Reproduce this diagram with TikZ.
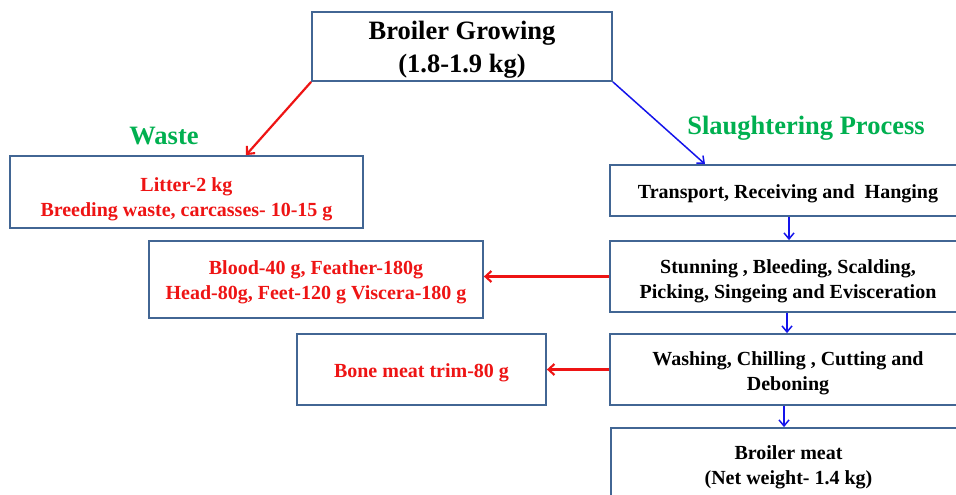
\documentclass[tikz,border=0pt]{standalone}
\usepackage{fontspec}
\setmainfont{Liberation Serif}
\usetikzlibrary{arrows.meta}
\definecolor{boxline}{RGB}{66,102,148}
\definecolor{wastered}{RGB}{238,20,20}
\definecolor{flowblue}{RGB}{20,20,235}
\definecolor{labelgreen}{RGB}{0,176,80}
\tikzset{
  box/.style={draw=boxline, line width=1.8pt, inner sep=0pt},
  boxtext/.style={align=center, inner sep=0pt, font=\bfseries\fontsize{20}{25}\selectfont},
  wastetext/.style={boxtext, text=wastered},
  headtext/.style={boxtext, font=\bfseries\fontsize{26.5}{33}\selectfont},
  grouplabel/.style={text=labelgreen, font=\bfseries\fontsize{26.5}{32}\selectfont},
  redarrow/.style={draw=wastered, line width=2.2pt, -{Straight Barb[length=6pt,width=11pt,line width=2.1pt]}},
  bluearrow/.style={draw=flowblue, line width=1.5pt, -{Straight Barb[length=6pt,width=10pt,line width=1.5pt]}}
}
\begin{document}
\begin{tikzpicture}[x=1pt,y=-1pt]
\clip (0,0) rectangle (956,495);
\fill[white] (0,0) rectangle (956,495);

% source
\node[box, minimum width=300pt, minimum height=69pt] (grow) at (462,46.5) {};
\node[headtext] (growtext) at ([yshift=-3.5pt]grow.center) {Broiler Growing\\(1.8-1.9 kg)};

% group labels
\node[grouplabel] (wastelbl) at (164,136.5) {Waste};
\node[grouplabel] (slaughlbl) at (806,128.5) {Slaughtering Process};

% waste side
\node[box, minimum width=353pt, minimum height=72pt] (litter) at (186.5,192) {};
\node[wastetext] (littertext) at ([yshift=-7pt]litter.center) {Litter-2 kg\\Breeding waste, carcasses- 10-15 g};
\node[box, minimum width=334pt, minimum height=77pt] (blood) at (316,279.5) {};
\node[wastetext] (bloodtext) at ([yshift=-2.5pt]blood.center) {Blood-40 g, Feather-180g\\Head-80g, Feet-120 g Viscera-180 g};
\node[box, minimum width=249pt, minimum height=71pt] (bone) at (421.5,369.5) {};
\node[wastetext] (bonetext) at ([yshift=-3pt]bone.center) {Bone meat trim-80 g};

% slaughtering steps
\node[box, minimum width=356pt, minimum height=51pt] (trans) at (788,190.5) {};
\node[boxtext] (transtext) at ([yshift=-3.5pt]trans.center) {Transport, Receiving and~~Hanging};
\node[box, minimum width=356pt, minimum height=71pt] (stun) at (788,276.5) {};
\node[boxtext] (stuntext) at ([yshift=-4.5pt]stun.center) {Stunning , Bleeding, Scalding,\\Picking, Singeing and Evisceration};
\node[box, minimum width=356pt, minimum height=71pt] (wash) at (788,369.5) {};
\node[boxtext] (washtext) at ([yshift=-3.5pt]wash.center) {Washing, Chilling , Cutting and\\Deboning};
\node[box, minimum width=355pt, minimum height=72pt] (meat) at (788.5,464) {};
\node[boxtext] (meattext) at ([yshift=-3pt]meat.center) {Broiler meat\\(Net weight- 1.4 kg)};

% connectors
\draw[redarrow] (grow.south west) -- ([xshift=59.5pt]litter.north);
\draw[bluearrow] (grow.south east) -- ([xshift=-83pt]trans.north);
\draw[bluearrow] ([xshift=1pt]trans.south) -- ([xshift=1pt]stun.north);
\draw[bluearrow] ([xshift=-1pt]stun.south) -- ([xshift=-1pt]wash.north);
\draw[bluearrow] ([xshift=-4pt]wash.south) -- ([xshift=-4.5pt]meat.north);
\draw[redarrow] (stun.west) -- (stun.west -| blood.east);
\draw[redarrow] (wash.west) -- (wash.west -| bone.east);
\end{tikzpicture}
\end{document}
